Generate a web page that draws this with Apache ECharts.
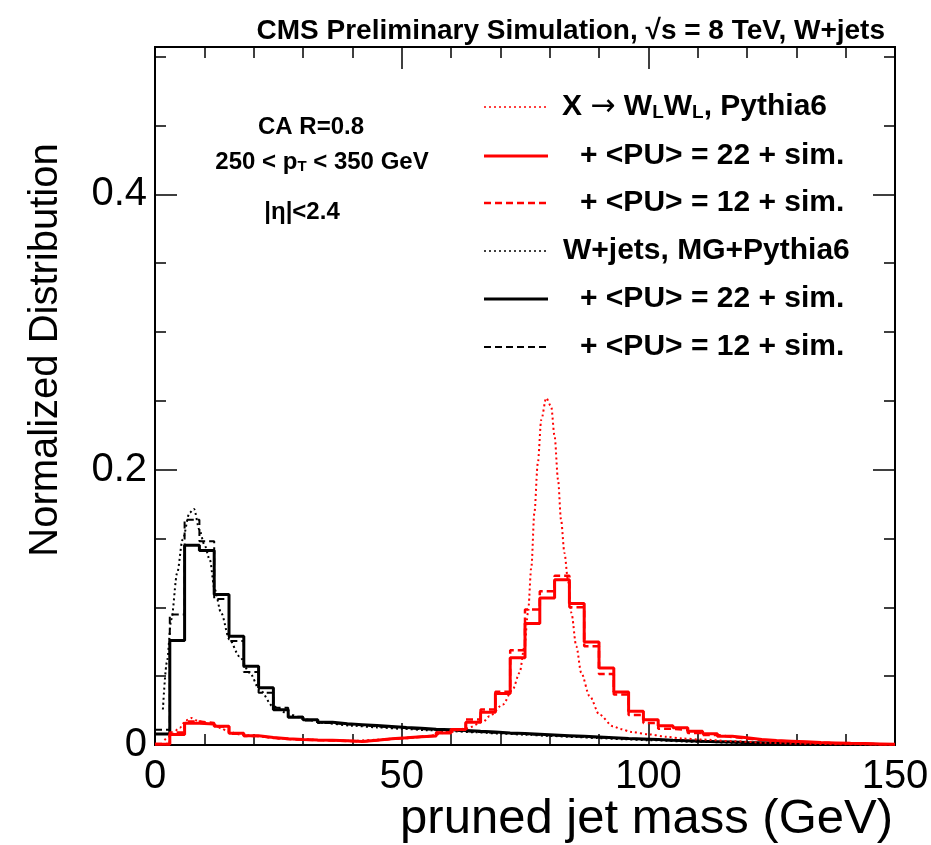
<!DOCTYPE html>
<html>
<head>
<meta charset="utf-8">
<script src="https://cdn.jsdelivr.net/npm/echarts@6/dist/echarts.min.js"></script>
<style>html,body{margin:0;padding:0;background:#fff}#c{width:931px;height:845px}</style>
</head>
<body>
<div id="c"></div>
<script>
// ---- data ----
const binWidth = 3; // GeV
const xTicks = [0, 50, 100, 150];
const yMajorTicks = [0, 0.2, 0.4];
const yMinorTicks = [0.05, 0.1, 0.15, 0.25, 0.3, 0.35, 0.45, 0.5];

// X -> WLWL + <PU>=22 + sim. (3 GeV bins from 0)
const sigPU22 = [0.0005,0.0076,0.0158,0.0152,0.0137,0.0085,0.0068,0.0055,0.0045,0.0040,
 0.0037,0.0035,0.0030,0.0025,0.0035,0.0045,0.0052,0.0060,0.0066,0.0088,
 0.0113,0.0165,0.0238,0.0374,0.0633,0.0882,0.1068,0.1201,0.1027,0.0749,
 0.0560,0.0385,0.0245,0.0183,0.0140,0.0125,0.0100,0.0081,0.0064,0.0052,
 0.0040,0.0033,0.0028,0.0023,0.0018,0.0015,0.0012,0.0010,0.0008,0.0006];
// X -> WLWL + <PU>=12 + sim.
const sigPU12 = [0.0008,0.0090,0.0170,0.0160,0.0135,0.0082,0.0065,0.0052,0.0043,0.0038,
 0.0035,0.0033,0.0029,0.0026,0.0034,0.0044,0.0051,0.0060,0.0068,0.0090,
 0.0115,0.0185,0.0258,0.0386,0.0688,0.0984,0.1117,0.1230,0.1000,0.0717,
 0.0515,0.0366,0.0218,0.0160,0.0118,0.0110,0.0088,0.0072,0.0058,0.0047,
 0.0037,0.0030,0.0025,0.0020,0.0016,0.0013,0.0010,0.0008,0.0006,0.0005];
// W+jets + <PU>=22 + sim.
const bkgPU22 = [0.0080,0.0759,0.1450,0.1412,0.1093,0.0790,0.0572,0.0415,0.0256,0.0201,
 0.0184,0.0165,0.0155,0.0148,0.0141,0.0134,0.0127,0.0121,0.0115,0.0110,
 0.0105,0.0099,0.0094,0.0088,0.0083,0.0078,0.0073,0.0068,0.0063,0.0058,
 0.0053,0.0048,0.0044,0.0040,0.0035,0.0031,0.0027,0.0024,0.0021,0.0018,
 0.0016,0.0014,0.0012,0.0010,0.0008,0.0007,0.0006,0.0005,0.0004,0.0003];
// W+jets + <PU>=12 + sim.
const bkgPU12 = [0.0110,0.0947,0.1637,0.1480,0.1060,0.0755,0.0530,0.0380,0.0270,0.0205,
 0.0178,0.0160,0.0150,0.0143,0.0136,0.0129,0.0122,0.0116,0.0110,0.0105,
 0.0100,0.0094,0.0089,0.0084,0.0079,0.0074,0.0069,0.0064,0.0060,0.0055,
 0.0050,0.0046,0.0042,0.0038,0.0033,0.0029,0.0026,0.0023,0.0020,0.0017,
 0.0015,0.0013,0.0011,0.0009,0.0008,0.0007,0.0006,0.0005,0.0004,0.0003];
// X -> WLWL, Pythia6 (generator level, fine)
const sigGenMass = [1.9,3,5,6.3,7.3,8.6,10,11.9,13.5,14.6,17.3,20.7,25,30,35,40,45,50,55,59.7,63.1,66.5,67.8,70.5,72.5,73.9,74.9,75.6,76.3,76.9,77.6,78.3,79.3,80.3,81,81.7,82.3,83,83.7,84.4,85.4,86.4,88.1,90.1,92.8,94.5,96.5,100.2,103.6,107,110.4,117.1,123.9,130.6,140,150];
const sigGenVal = [0.0036,0.006,0.0125,0.018,0.0197,0.0178,0.016,0.0149,0.012,0.0101,0.0076,0.0064,0.0048,0.004,0.0035,0.003,0.0038,0.0048,0.0062,0.0095,0.012,0.0167,0.0209,0.0294,0.0403,0.0524,0.0717,0.096,0.1298,0.1686,0.2048,0.2363,0.252,0.246,0.2242,0.1927,0.1637,0.1395,0.1201,0.096,0.0717,0.0524,0.0355,0.022,0.0137,0.0115,0.0095,0.0077,0.006,0.0047,0.004,0.0028,0.0016,0.001,0.0005,0.0002];
// W+jets, MG+Pythia6
const bkgGenMass = [1.6,2.4,3.3,4.5,5.6,7,7.9,9,10,11.1,12.1,13.4,15.1,17.1,19.2,21.2,23.9,27.3,30.6,34,40,45,50,55,60,65,70,75,80,85,90,95,100,110,120,130,140,150];
const bkgGenVal = [0.0258,0.06,0.0911,0.125,0.1492,0.1686,0.1715,0.1564,0.1456,0.1347,0.1129,0.096,0.0766,0.0645,0.0524,0.0403,0.0282,0.0221,0.0185,0.0161,0.014,0.0128,0.0118,0.0108,0.01,0.0092,0.0083,0.0075,0.0066,0.0058,0.005,0.0042,0.0035,0.0023,0.0014,0.0008,0.0004,0.0002];

// ---- build ----
function hist(vals) {
  const d = vals.map((v, i) => [i * binWidth, v]);
  d.push([vals.length * binWidth, vals[vals.length - 1]]);
  return d;
}
function pairs(xs, ys) { return xs.map((x, i) => [x, ys[i]]); }

const FONT = "'Liberation Sans', Arial, Helvetica, sans-serif";
const RED = '#ff0000', BLACK = '#000000';
const DOT = [2, 3], DASH = [7, 4];
const yMax = 0.507;

function histSeries(vals, color, width, type, z) {
  return { type: 'line', data: hist(vals), step: 'end', symbol: 'none', z: z,
    lineStyle: { color: color, width: width, type: type }, silent: true, animation: false };
}
function curveSeries(data, color, z) {
  return { type: 'line', data: data, smooth: 0.3, smoothMonotone: 'x', symbol: 'none', z: z,
    lineStyle: { color: color, width: 2, type: DOT }, silent: true, animation: false };
}

const axisLine = { show: true, onZero: false, lineStyle: { color: '#000', width: 2 } };
const tickMajor = { show: true, inside: true, length: 22, lineStyle: { color: '#000', width: 1.5 } };
const tickMinor = { show: true, inside: true, length: 11, lineStyle: { color: '#000', width: 1.5 } };

function yAx(pos, ticks, len, labels) {
  return {
    type: 'value', position: pos, min: 0, max: yMax,
    axisLine: axisLine,
    axisTick: { show: true, inside: true, length: len, customValues: ticks, lineStyle: { color: '#000', width: 1.5 } },
    axisLabel: labels ? { show: true, customValues: yMajorTicks, fontSize: 40, fontFamily: FONT, color: '#000', margin: 8,
      formatter: v => (v === 0 ? '0' : String(v)) } : { show: false },
    splitLine: { show: false }, minorTick: { show: false }
  };
}
function xAx(pos, labels) {
  return {
    type: 'value', position: pos, min: xTicks[0], max: xTicks[xTicks.length - 1], interval: 50,
    axisLine: axisLine, axisTick: tickMajor,
    minorTick: Object.assign({ splitNumber: 5 }, tickMinor),
    axisLabel: labels ? { show: true, fontSize: 40, fontFamily: FONT, color: '#000', margin: 12 } : { show: false },
    splitLine: { show: false }, minorSplitLine: { show: false }
  };
}

const subStyle = { fontSize: 19, fontWeight: 'bold', fontFamily: FONT, lineHeight: 6, verticalAlign: 'bottom', fill: '#000' };
const arrowStyle = { fontSize: 30, fontWeight: 'normal', fontFamily: "'DejaVu Sans', sans-serif", fill: '#000' };
const legendRows = [
  { y: 107, color: RED, type: DOT, width: 1.5, x: 562, text: 'X {a|→} W{s|L}W{s|L}, Pythia6' },
  { y: 156, color: RED, type: 'solid', width: 3, x: 580, text: '+ <PU> = 22 + sim.' },
  { y: 203, color: RED, type: DASH, width: 2.5, x: 580, text: '+ <PU> = 12 + sim.' },
  { y: 251, color: BLACK, type: DOT, width: 1.5, x: 563, text: 'W+jets, MG+Pythia6' },
  { y: 299, color: BLACK, type: 'solid', width: 3, x: 580, text: '+ <PU> = 22 + sim.' },
  { y: 347, color: BLACK, type: DASH, width: 2, x: 580, text: '+ <PU> = 12 + sim.' }
];
const graphics = [];
legendRows.forEach(r => {
  graphics.push({ type: 'line', shape: { x1: 484, y1: r.y, x2: 548, y2: r.y },
    style: { stroke: r.color, lineWidth: r.width, lineDash: r.type === 'solid' ? null : r.type }, silent: true });
  graphics.push({ type: 'text', x: r.x, y: r.y, silent: true,
    style: { text: r.text, fill: '#000', font: 'bold 30px ' + FONT, align: 'left', verticalAlign: 'middle',
      rich: { s: subStyle, a: arrowStyle } } });
});
// title
graphics.push({ type: 'text', x: 885, y: 31, silent: true,
  style: { text: 'CMS Preliminary Simulation, √s = 8 TeV, W+jets', fill: '#000', font: 'bold 28px ' + FONT, align: 'right', verticalAlign: 'middle' } });
// annotation block
graphics.push({ type: 'text', x: 311, y: 127, silent: true,
  style: { text: 'CA R=0.8', fill: '#000', font: 'bold 24px ' + FONT, align: 'center', verticalAlign: 'middle' } });
graphics.push({ type: 'text', x: 322, y: 162, silent: true,
  style: { text: '250 < p{s|T} < 350 GeV', fill: '#000', font: 'bold 24px ' + FONT, align: 'center', verticalAlign: 'middle',
    rich: { s: { fontSize: 15, fontWeight: 'bold', fontFamily: FONT, lineHeight: 0, verticalAlign: 'bottom', fill: '#000' } } } });
graphics.push({ type: 'text', x: 302, y: 212, silent: true,
  style: { text: '|η|<2.4', fill: '#000', font: 'bold 24px ' + FONT, align: 'center', verticalAlign: 'middle' } });
// axis titles
graphics.push({ type: 'text', x: 893, y: 819, silent: true,
  style: { text: 'pruned jet mass (GeV)', fill: '#000', font: '49px ' + FONT, align: 'right', verticalAlign: 'middle' } });
graphics.push({ type: 'text', x: 46, y: 350, rotation: Math.PI / 2, silent: true,
  style: { text: 'Normalized Distribution', fill: '#000', font: '40px ' + FONT, align: 'center', verticalAlign: 'middle' } });

const option = {
  animation: false,
  backgroundColor: '#fff',
  grid: { left: 155, right: 36, top: 47, bottom: 100, containLabel: false, outerBoundsMode: 'none' },
  xAxis: [xAx('bottom', true), xAx('top', false)],
  yAxis: [yAx('left', yMajorTicks, 22, true), yAx('left', yMinorTicks, 11, false),
          yAx('right', yMajorTicks, 22, false), yAx('right', yMinorTicks, 11, false)],
  series: [
    curveSeries(pairs(bkgGenMass, bkgGenVal), BLACK, 2),
    histSeries(bkgPU12, BLACK, 2, DASH, 3),
    histSeries(bkgPU22, BLACK, 3, 'solid', 4),
    curveSeries(pairs(sigGenMass, sigGenVal), RED, 5),
    histSeries(sigPU12, RED, 2.5, DASH, 6),
    histSeries(sigPU22, RED, 3, 'solid', 7)
  ],
  graphic: graphics
};
const chart = echarts.init(document.getElementById('c'), null, { renderer: 'canvas' });
chart.setOption(option);
</script>
</body>
</html>
